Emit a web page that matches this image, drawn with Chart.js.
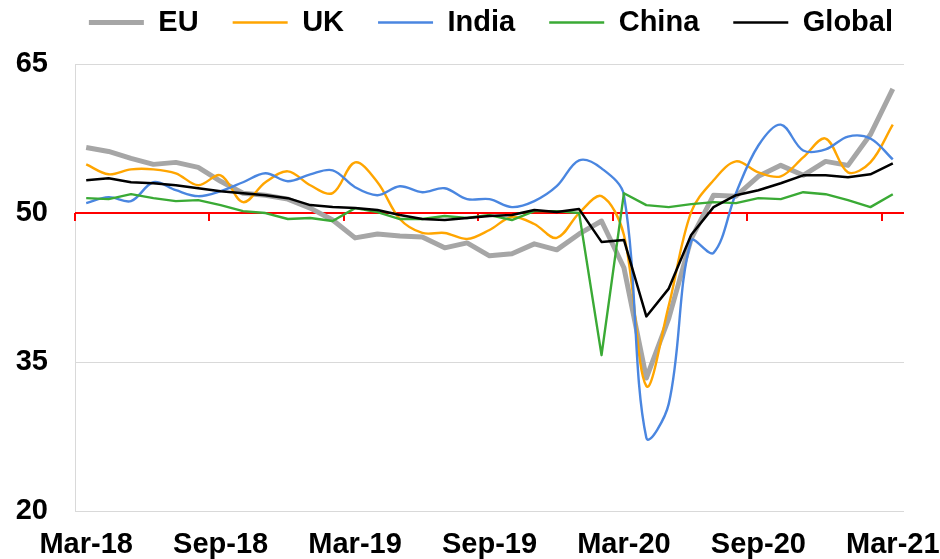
<!DOCTYPE html>
<html>
<head>
<meta charset="utf-8">
<script src="https://cdn.jsdelivr.net/npm/chart.js@4.4.1/dist/chart.umd.min.js"></script>
<style>
  body { margin: 0; background: #fff; }
  #wrap { width: 940px; height: 559px; }
</style>
</head>
<body>
<div id="wrap"><canvas id="myChart"></canvas></div>
<script>
'use strict';

// monthly PMI readings, Mar-18 .. Mar-21
let months = ['Mar-18', 'Apr-18', 'May-18', 'Jun-18', 'Jul-18', 'Aug-18', 'Sep-18', 'Oct-18', 'Nov-18', 'Dec-18',
  'Jan-19', 'Feb-19', 'Mar-19', 'Apr-19', 'May-19', 'Jun-19', 'Jul-19', 'Aug-19', 'Sep-19', 'Oct-19', 'Nov-19', 'Dec-19',
  'Jan-20', 'Feb-20', 'Mar-20', 'Apr-20', 'May-20', 'Jun-20', 'Jul-20', 'Aug-20', 'Sep-20', 'Oct-20', 'Nov-20', 'Dec-20',
  'Jan-21', 'Feb-21', 'Mar-21'];

let euValues = [56.6, 56.2, 55.5, 54.9, 55.1, 54.6, 53.2, 52.0, 51.8, 51.4, 50.5, 49.3, 47.5, 47.9, 47.7, 47.6, 46.5, 47.0,
  45.7, 45.9, 46.9, 46.3, 47.9, 49.2, 44.5, 33.4, 39.4, 47.4, 51.8, 51.7, 53.7, 54.8, 53.8, 55.2, 54.8, 57.9, 62.5];
let ukValues = [54.9, 53.9, 54.4, 54.4, 54.0, 52.8, 53.8, 51.1, 53.1, 54.2, 52.8, 52.0, 55.1, 53.1, 49.4, 48.0, 48.0, 47.4,
  48.3, 49.6, 48.9, 47.5, 50.0, 51.7, 47.8, 32.6, 40.7, 50.1, 53.3, 55.2, 54.1, 53.7, 55.6, 57.5, 54.1, 55.1, 58.9];
let indiaValues = [51.0, 51.6, 51.2, 53.1, 52.3, 51.7, 52.2, 53.1, 54.0, 53.2, 53.9, 54.3, 52.6, 51.8, 52.7, 52.1, 52.5, 51.4,
  51.4, 50.6, 51.2, 52.7, 55.3, 54.5, 51.8, 27.4, 30.8, 47.2, 46.0, 52.0, 56.8, 58.9, 56.3, 56.4, 57.7, 57.5, 55.4];
let chinaValues = [51.5, 51.4, 51.9, 51.5, 51.2, 51.3, 50.8, 50.2, 50.0, 49.4, 49.5, 49.2, 50.5, 50.1, 49.4, 49.4, 49.7, 49.5,
  49.8, 49.3, 50.2, 50.2, 50.0, 35.7, 52.0, 50.8, 50.6, 50.9, 51.1, 51.0, 51.5, 51.4, 52.1, 51.9, 51.3, 50.6, 51.9];
let globalValues = [53.3, 53.5, 53.1, 53.0, 52.8, 52.5, 52.2, 52.0, 51.8, 51.5, 50.8, 50.6, 50.5, 50.3, 49.8, 49.4, 49.3, 49.5,
  49.7, 49.8, 50.3, 50.1, 50.4, 47.1, 47.3, 39.6, 42.4, 47.8, 50.6, 51.8, 52.3, 53.0, 53.8, 53.8, 53.6, 53.9, 55.0];

let yMin = 20;
let yMax = 65;
let yStep = 15;

const fontMain = { family: '"Liberation Sans", Arial, sans-serif', size: 29, weight: 'bold' };

// red line at 50 with the category tick marks (every 6 months)
const axisAt50 = {
  id: 'axisAt50',
  afterInit(chart) {
    // leave some room between the legend and the plot
    const lg = chart.legend;
    const fit = lg.fit;
    lg.fit = function () {
      fit.call(this);
      this.height += 17;
    };
  },
  beforeDatasetsDraw(chart) {
    const { ctx, scales: { x, y } } = chart;
    const y50 = y.getPixelForValue(50);
    const half = (x.getPixelForValue(1) - x.getPixelForValue(0)) / 2;
    ctx.save();
    ctx.strokeStyle = '#ff0000';
    ctx.lineWidth = 2;
    ctx.beginPath();
    ctx.moveTo(x.left, y50);
    ctx.lineTo(x.right, y50);
    for (let i = 0; i < months.length; i += 6) {
      let px = Math.round(x.getPixelForValue(i) - half);
      ctx.moveTo(px, y50);
      ctx.lineTo(px, y50 + 8);
    }
    ctx.stroke();
    ctx.restore();
  }
};

function series(label, values, color, width, tension, order) {
  return {
    label: label,
    data: values,
    borderColor: color,
    backgroundColor: color,
    borderWidth: width,
    tension: tension,
    pointRadius: 0,
    pointStyle: 'line',
    borderJoinStyle: 'round',
    order: order
  };
}

const data = {
  labels: months,
  datasets: [
    series('EU', euValues, '#a6a6a6', 5, 0, 5),
    series('UK', ukValues, '#ffa500', 2.4, 0.35, 4),
    series('India', indiaValues, '#4a86e0', 2.4, 0.35, 3),
    series('China', chinaValues, '#3aaa35', 2.4, 0, 2),
    series('Global', globalValues, '#000000', 2.5, 0, 1)
  ]
};

const config = {
  type: 'line',
  data: data,
  options: {
    responsive: true,
    maintainAspectRatio: false,
    animation: false,
    layout: { padding: { left: 0, right: 13, top: -26, bottom: -11 } },
    plugins: {
      tooltip: { enabled: false },
      legend: {
        align: 'end',
        labels: {
          usePointStyle: true,
          pointStyleWidth: 55,
          padding: 34,
          color: '#000',
          font: fontMain,
          sort: (a, b) => a.datasetIndex - b.datasetIndex
        }
      }
    },
    scales: {
      x: {
        offset: true,
        afterFit: (axis) => { axis.paddingLeft = 0; axis.paddingRight = 36; },
        grid: { display: false },
        border: { display: false },
        ticks: {
          autoSkip: false,
          maxRotation: 0,
          padding: 8,
          color: '#000',
          font: fontMain,
          callback: function (val, i) { return i % 6 === 0 ? months[i] : ''; }
        }
      },
      y: {
        min: yMin,
        max: yMax,
        afterFit: (axis) => { axis.width = 75; },
        grid: { color: '#d9d9d9', lineWidth: 1, drawTicks: false },
        border: { color: '#d9d9d9' },
        ticks: { stepSize: yStep, padding: 27, color: '#000', font: fontMain }
      }
    }
  },
  plugins: [axisAt50]
};

const myChart = new Chart(document.getElementById('myChart'), config);
</script>
</body>
</html>
